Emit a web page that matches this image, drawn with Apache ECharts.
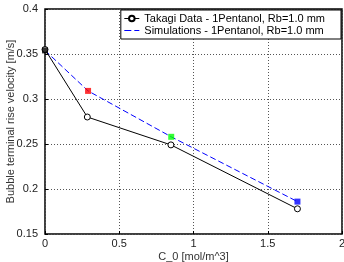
<!DOCTYPE html>
<html>
<head>
<meta charset="utf-8">
<script src="https://cdn.jsdelivr.net/npm/echarts@6/dist/echarts.min.js"></script>
<style>
  html, body { margin: 0; padding: 0; background: #fff; }
  #main { width: 344px; height: 262px; }
</style>
</head>
<body>
<div id="main"></div>
<script>
var takagiX = [0, 0.285, 0.848, 1.70];
var takagiY = [0.355, 0.280, 0.249, 0.178];
var simX = [0, 0.29, 0.85, 1.70];
var simY = [0.354, 0.309, 0.258, 0.186];
var simColors = ['#000000', '#ff0000', '#00ff00', '#0000ff'];

var chart = echarts.init(document.getElementById('main'));
var font = 'Liberation Sans, Arial, Helvetica, sans-serif';

function pairs(xs, ys) {
  return xs.map(function (x, i) { return [x, ys[i]]; });
}

option = {
  animation: false,
  textStyle: { fontFamily: font },
  grid: {
    left: 45, right: 2, top: 9, bottom: 28,
    outerBoundsMode: 'none', containLabel: false,
    show: true, borderColor: '#000', borderWidth: 1.5
  },
  legend: {
    right: 3, top: 10,
    orient: 'vertical',
    backgroundColor: '#fff',
    borderColor: '#000', borderWidth: 1,
    padding: [3, 16, 3, 3],
    itemGap: 1,
    itemWidth: 15, itemHeight: 7,
    lineStyle: { width: 1 },
    textStyle: { fontSize: 11, color: '#000', fontFamily: font },
    data: [
      { name: 'Takagi Data - 1Pentanol, Rb=1.0 mm' },
      { name: 'Simulations - 1Pentanol, Rb=1.0 mm',
        icon: 'path://M0,0h0.05v0.05h-0.05z M0,3h7v1h-7z M10,3h5v1h-5z M14.95,6.95h0.05v0.05h-0.05z' }
    ]
  },
  xAxis: {
    type: 'value', min: 0, max: 2, interval: 0.5,
    name: 'C_0 [mol/m^3]', nameLocation: 'middle', nameGap: 17,
    nameMoveOverlap: false,
    nameTextStyle: { fontSize: 11, color: '#333' },
    axisLine: { show: false },
    axisTick: { show: true, inside: true, length: 3, lineStyle: { color: '#000' } },
    axisLabel: { fontSize: 11, color: '#222', margin: 4,
      formatter: function (v) { return String(v); } },
    splitLine: { show: true, lineStyle: { color: '#555', type: [1, 2], width: 1 } }
  },
  yAxis: {
    type: 'value', min: 0.15, max: 0.4, interval: 0.05,
    name: 'Bubble terminal rise velocity [m/s]', nameLocation: 'middle', nameGap: 29,
    nameMoveOverlap: false,
    nameTextStyle: { fontSize: 11, color: '#333' },
    axisLine: { show: false },
    axisTick: { show: true, inside: true, length: 3, lineStyle: { color: '#000' } },
    axisLabel: { fontSize: 11, color: '#222', margin: 7,
      formatter: function (v) { return String(+v.toFixed(2)); } },
    splitLine: { show: true, lineStyle: { color: '#555', type: [1, 2], width: 1 } }
  },
  series: [
    {
      name: 'Takagi Data - 1Pentanol, Rb=1.0 mm',
      type: 'line',
      data: pairs(takagiX, takagiY),
      symbol: 'circle', symbolSize: 6,
      itemStyle: { color: '#fff', borderColor: '#000', borderWidth: 1 },
      lineStyle: { color: '#000', width: 1 },
      z: 3
    },
    {
      name: 'Simulations - 1Pentanol, Rb=1.0 mm',
      type: 'line',
      data: pairs(simX, simY),
      symbol: 'none',
      itemStyle: { color: '#0000ff' },
      lineStyle: { color: '#0000ff', width: 1, type: [6, 3] },
      z: 2
    },
    {
      name: 'sim-markers',
      type: 'scatter',
      data: pairs(simX, simY).map(function (p, i) {
        return { value: p, itemStyle: { color: simColors[i] } };
      }),
      symbol: 'rect', symbolSize: 6,
      z: 4
    }
  ]
};
chart.setOption(option);
</script>
</body>
</html>
